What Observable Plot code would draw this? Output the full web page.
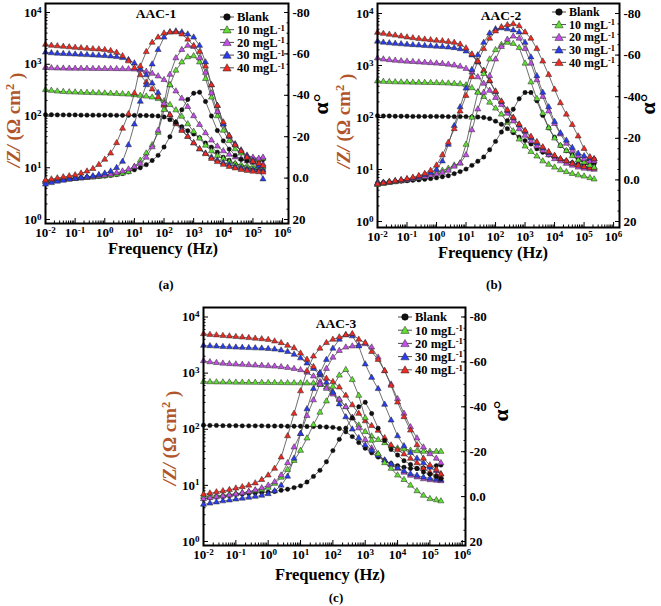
<!DOCTYPE html>
<html>
<head>
<meta charset="utf-8">
<script src="https://cdn.jsdelivr.net/npm/d3@7"></script>
<script src="https://cdn.jsdelivr.net/npm/@observablehq/plot@0.6"></script>
<style>
html,body{margin:0;padding:0;background:#fff}
#root{position:relative;width:661px;height:606px;overflow:hidden;background:#fff}
#root>svg{position:absolute;max-width:none}
</style>
</head>
<body>
<div id="root"></div>
<script>
// ---------- shared categories / ticks ----------
const freq = [0.01,0.0158,0.0251,0.0398,0.0631,0.1,0.158,0.251,0.398,0.631,1,1.58,2.51,3.98,6.31,10,15.8,25.1,39.8,63.1,100,158,251,398,631,1000,1580,2510,3980,6310,10000,15800,25100,39800,63100,100000,158000,219000];
const seriesNames = ["Blank","10 mgL^-1","20 mgL^-1","30 mgL^-1","40 mgL^-1"];
const seriesColors = ["#111111","#5fe030","#c44ee8","#2a3cf0","#ee2a22"];
const xMajor = [0.01,0.1,1,10,100,1000,10000,100000,1000000];
const xMajorLabels = ["10^-2","10^-1","10^0","10^1","10^2","10^3","10^4","10^5","10^6"];
const zMajor = [1,10,100,1000,10000];
const zMajorLabels = ["10^0","10^1","10^2","10^3","10^4"];
const pMajor = [-80,-60,-40,-20,0,20];
const pMajorLabels = ["-80","-60","-40","-20","0.0","20"];

// ---------- panel (a) AAC-1 ----------
const modA0  = [106,106,105,105,105,105,104,104,104,104,104,104,103,103,103,103,102,102,101,100,96,85,72,62,52,45,38,30,25,20,16,14,12,11,10,9.5,9.1,9];
const modA10 = [320,310,300,295,290,288,285,283,280,278,276,273,270,266,262,255,248,240,230,215,195,165,130,98,70,50,37,27,21,17,15,13,12,11.3,10.8,10.5,10.3,10.2];
const modA20 = [860,845,838,833,830,828,826,824,822,820,818,816,814,812,810,800,776,724,661,589,501,398,302,219,151,100,68,47,34,26,21,18,16,15,13.5,12.6,12,11.7];
const modA30 = [1700,1650,1620,1600,1580,1560,1540,1520,1500,1480,1460,1430,1390,1330,1220,1050,820,620,430,280,165,105,75,55,40,30,23,19,16,14,12.5,11.5,10.5,10,9.5,9.2,9,8.9];
const modA40 = [2400,2300,2250,2200,2150,2100,2060,2020,1980,1950,1900,1820,1680,1450,1150,850,620,450,330,230,160,105,70,52,40,30,23,18.5,15,13,11.5,10.5,9.8,9.2,8.8,8.5,8.3,8.2];
const phA0  = [1.5,1.2,0.9,0.6,0.3,0,-0.2,-0.4,-0.6,-0.8,-1,-1.3,-1.7,-2.2,-3,-4,-5,-6.5,-8.5,-11,-15,-20,-27,-33,-38,-41,-41.5,-37,-30,-23,-18,-14,-11,-9,-8.5,-8,-8.5,-9];
const phA10 = [1.5,1.2,1,0.7,0.4,0.2,0,-0.2,-0.4,-0.7,-1,-1.4,-1.8,-2.3,-3,-5.5,-8.5,-12,-16,-22,-33,-45,-52,-56,-58.5,-59,-56,-48,-39,-30,-23,-18,-14,-12,-10.5,-9.5,-9,-9.5];
const phA20 = [2,1.6,1.2,0.9,0.6,0.3,0,-0.3,-0.6,-1,-1.4,-1.9,-2.5,-3.3,-4.3,-5.5,-7,-10,-15,-23,-36,-50,-58,-62,-64,-63.5,-58,-51,-41,-32,-26,-20,-16,-13,-11,-10,-9.5,-10];
const phA30 = [3,2.3,1.6,1.1,0.6,0.2,-0.2,-0.6,-1,-1.6,-2.3,-3.3,-5,-8,-16,-26,-37,-45,-55,-62,-68,-70.5,-71,-70.5,-69.5,-68,-64,-56,-45,-35,-26,-20.5,-16.5,-13.5,-10.5,-8.5,-6,0.5];
const phA40 = [1,0.5,0,-0.5,-1,-1.5,-2.3,-3.3,-4.5,-6.5,-9,-12,-17,-24,-31,-41,-54,-61,-65.5,-68,-70,-70.5,-70.5,-69.5,-67,-64,-61,-54,-45,-35,-27,-20.5,-16,-13,-10,-8,-7,-6];

// ---------- panel (b) AAC-2 ----------
const modB0  = [108,107,107,106,106,106,105,105,105,105,105,105,104,104,104,104,103,102,100,95,85,74,61,51,42,36,31,25,21.5,19,17,15.5,14.5,13.5,12.8,12.5,12.5,13];
const modB10 = [500,490,485,480,478,475,472,470,468,466,463,460,455,448,440,420,370,310,250,195,150,115,80,55,38,28,22,18,14.5,12.5,11,9.8,9,8.3,7.8,7.4,6.9,6.5];
const modB20 = [1380,1320,1280,1250,1220,1200,1180,1160,1140,1120,1100,1080,1050,1010,960,870,740,600,450,330,240,175,120,85,60,45,35,28,23,19,16,14.5,13,12,11,10.5,10.2,10];
const modB30 = [2900,2780,2700,2640,2590,2540,2490,2450,2410,2370,2330,2290,2240,2180,2080,1880,1580,1150,780,500,310,200,135,98,72,54,41,32,26,21,18,16,14.5,13.3,12.3,11.6,11.2,11];
const modB40 = [4300,4100,3950,3800,3650,3500,3380,3280,3180,3100,3020,2950,2870,2760,2550,2150,1650,1200,800,510,320,205,140,100,74,56,43,34,27,22,18.5,16,14.5,13,12,11.3,10.8,10.5];
const phB0  = [1.5,1.2,1,0.8,0.6,0.4,0.2,0,-0.3,-0.6,-1,-1.5,-2,-3,-4,-5.2,-7,-9,-11,-14.5,-18.5,-23,-28.5,-34,-39,-42,-42,-38,-31,-25,-20.5,-16.5,-14,-12,-10,-9,-9.5,-10];
const phB10 = [2.3,1.8,1.4,1,0.6,0.2,-0.3,-0.8,-1.5,-2.5,-3.5,-4.5,-5.5,-7,-8,-17,-30,-42,-51,-58,-62.5,-65,-66,-65.5,-63.5,-56,-47,-39,-32,-25,-20,-16.5,-14,-11.5,-9.5,-8.5,-7,-6];
const phB20 = [2,1.6,1.2,0.8,0.4,0,-0.5,-1,-1.6,-2.2,-2.8,-3.5,-4.5,-6.5,-8,-12,-24,-34,-42,-50,-58,-64,-67.5,-69,-68,-63,-56,-48,-40,-33,-27,-22,-17.5,-14,-11.5,-10,-9,-9];
const phB30 = [1.5,1.2,0.9,0.5,0.1,-0.3,-0.8,-1.5,-2.5,-3.5,-5,-9,-17,-26,-35,-44,-53,-60,-66,-70.5,-72.5,-73,-72.5,-72,-71,-66,-59,-50,-42,-35,-28,-22.5,-19,-15.5,-12.7,-11.5,-10.5,-10];
const phB40 = [2,1.5,1,0.5,0,-0.5,-1.2,-2,-3,-4.5,-7,-12,-18,-24.5,-33,-40.5,-49.5,-57,-63,-68,-71.5,-73.5,-74.5,-75,-74,-71,-68,-63,-57,-50.5,-43.5,-37,-31.5,-26.5,-21,-15,-11,-10];

// ---------- panel (c) AAC-3 ----------
const modC0  = [118,117,117,116,116,116,115,115,115,115,114,114,114,113,113,113,112,112,111,110,108,103,90,74,58,46,38,32,27.5,24.5,22.5,21,20,20,20.5,21.5,22.5,23];
const modC10 = [700,695,690,688,686,684,682,680,678,676,674,672,670,668,666,664,662,660,620,560,460,340,250,160,118,90,75,65,57,50,46,44,42,41,40,40,40,40];
const modC20 = [1650,1580,1530,1490,1460,1440,1420,1400,1380,1360,1340,1320,1290,1250,1200,1140,1030,880,700,530,420,340,250,160,105,65,46,36,28,23,20,17,15,14,13,12.5,12.2,12];
const modC30 = [3100,3050,3000,2960,2920,2880,2850,2820,2790,2760,2720,2660,2560,2400,2150,1850,1500,1200,920,680,450,280,165,100,70,52,42,34,28,24,20.5,18,16,15,14,13.3,12.8,12.5];
const modC40 = [5000,4850,4750,4650,4550,4450,4350,4250,4150,4050,3950,3700,3450,3100,2800,2250,1750,1300,1000,800,700,560,400,270,190,140,115,95,70,52,43,36,30,25,20,17,15,14];
const phC0  = [1,0.5,0.2,0,-0.5,-1,-1.2,-1.4,-1.6,-1.8,-2,-2.3,-2.8,-3.3,-4,-4.8,-6.5,-9,-11.7,-15.5,-20.5,-25.5,-30.5,-35,-40,-42,-37,-30.5,-25,-21,-18.5,-16,-14.3,-12.5,-11,-10,-9,-8];
const phC10 = [0,-0.2,-0.4,-0.6,-0.9,-1.3,-1.7,-2.1,-2.6,-3.1,-4,-5.8,-8.5,-12,-16,-20.5,-26,-32,-37.5,-42.5,-49,-54,-56.5,-52,-45,-35,-25,-19,-15,-12.5,-9.5,-7.5,-5,-2.5,-0.5,1,1.5,2];
const phC20 = [1,0.6,0.2,-0.2,-0.6,-1.1,-1.6,-2.2,-2.9,-3.8,-5,-6.5,-9.5,-15,-22,-28,-36,-43,-50,-57,-62,-65,-66.5,-67,-67.5,-68,-66.5,-62,-56,-50,-43.5,-37,-31,-26,-22,-19,-17,-15];
const phC30 = [3.5,3,2.5,2,1.6,1.2,0.8,0.4,0,-0.5,-1.2,-2.5,-5,-9,-17,-28,-39,-48,-55,-61,-66,-70,-72,-71.5,-67,-59,-53,-48,-41,-34,-27,-22.5,-19.5,-17,-15,-13,-11.5,-10];
const phC40 = [-1,-1.5,-2,-2.5,-3,-3.7,-4.3,-5,-6,-7.5,-9.5,-12.5,-17.5,-27,-37,-47,-56,-62.5,-66,-68.5,-70,-71,-72,-72.5,-70,-68.5,-64.5,-61,-56,-49.5,-42,-35.5,-29.5,-23,-17,-14,-12,-10];

// ---------- helpers ----------
const FONT = '"Liberation Serif","Times New Roman",serif';
const xLabelMap = new Map(xMajor.map((d, i) => [d, xMajorLabels[i]]));
const zLabelMap = new Map(zMajor.map((d, i) => [d, zMajorLabels[i]]));
const pLabelMap = new Map(pMajor.map((d, i) => [d, pMajorLabels[i]]));
const xMinor = [];
for (let e = -2; e <= 5; e++) for (let m = 2; m <= 9; m++) xMinor.push(m * Math.pow(10, e));
const zMinor = [];
for (let e = 0; e <= 3; e++) for (let m = 2; m <= 9; m++) zMinor.push(m * Math.pow(10, e));
const pMinor = d3.range(-80, 21, 5);

function rowsOf(arrs) {
  const out = [];
  arrs.forEach((arr, s) => arr.forEach((v, i) => out.push({f: freq[i], v, s})));
  return out;
}

function supify(svg) {
  d3.select(svg).selectAll("text").each(function () {
    const t = this.textContent;
    const m = /^(.*)\^(.+)$/.exec(t);
    if (!m) return;
    const el = d3.select(this);
    el.text(null);
    el.append("tspan").text(m[1]);
    el.append("tspan").attr("dy", "-0.45em").attr("font-size", "0.7em").text(m[2]);
  });
}

function seriesMarks(rows) {
  return [
    Plot.line(rows, {x: "f", y: "v", z: "s", stroke: "#4a4a4a", strokeWidth: 0.8}),
    Plot.dot(rows, {filter: d => d.s === 0, x: "f", y: "v", r: 2.2, fill: seriesColors[0], stroke: "#000", strokeWidth: 0.4}),
    Plot.dot(rows, {filter: d => d.s > 0, x: "f", y: "v", symbol: "triangle", r: 2.25,
      fill: d => seriesColors[d.s], stroke: "#262626", strokeWidth: 0.5})
  ];
}

const panels = [
  {left: 0, top: 0, width: 330, height: 300, mt: 3, mb: 77, ml: 45, mr: 42,
   xMax: Math.pow(10, 6.2), zDom: [Math.pow(10, -0.077), Math.pow(10, 4.174)], pDom: [21.93, -84.35],
   mod: [modA0, modA10, modA20, modA30, modA40], ph: [phA0, phA10, phA20, phA30, phA40]},
  {left: 330, top: 0, width: 331, height: 300, mt: 3, mb: 73, ml: 47, mr: 42,
   xMax: Math.pow(10, 6.2), zDom: [Math.pow(10, -0.115), Math.pow(10, 4.192)], pDom: [22.88, -84.8],
   mod: [modB0, modB10, modB20, modB30, modB40], ph: [phB0, phB10, phB20, phB30, phB40]},
  {left: 0, top: 300, width: 661, height: 306, mt: 7, mb: 61, ml: 203, mr: 196,
   xMax: Math.pow(10, 6.1), zDom: [Math.pow(10, -0.071), Math.pow(10, 4.169)], pDom: [21.78, -84.23],
   mod: [modC0, modC10, modC20, modC30, modC40], ph: [phC0, phC10, phC20, phC30, phC40]}
];

const root = document.getElementById("root");
function place(node, left, top) {
  node.style.position = "absolute";
  node.style.left = left + "px";
  node.style.top = top + "px";
  root.appendChild(node);
}

for (const P of panels) {
  const common = {
    width: P.width, height: P.height,
    marginTop: P.mt, marginBottom: P.mb, marginLeft: P.ml, marginRight: P.mr,
    style: {background: "transparent", fontFamily: FONT, fontWeight: "bold", fontSize: "13px", color: "#000", overflow: "visible"}
  };
  const zPlot = Plot.plot({
    ...common,
    x: {type: "log", domain: [0.01, P.xMax], axis: null},
    y: {type: "log", domain: P.zDom, axis: null},
    marks: [
      Plot.axisX({ticks: xMajor, tickFormat: d => xLabelMap.get(d), tickSize: -5, tickPadding: 9, label: null}),
      Plot.axisX({ticks: xMinor, tickFormat: () => "", tickSize: -2.5, label: null}),
      Plot.axisY({ticks: zMajor, tickFormat: d => zLabelMap.get(d), tickSize: -5, tickPadding: 9, label: null}),
      Plot.axisY({ticks: zMinor, tickFormat: () => "", tickSize: -2.5, label: null}),
      ...seriesMarks(rowsOf(P.mod)),
      Plot.frame({stroke: "#000", strokeWidth: 2})
    ]
  });
  const pPlot = Plot.plot({
    ...common,
    x: {type: "log", domain: [0.01, P.xMax], axis: null},
    y: {type: "linear", domain: P.pDom, axis: null},
    marks: [
      Plot.axisY({anchor: "right", ticks: pMajor, tickFormat: d => pLabelMap.get(d), tickSize: -5, tickPadding: 9, label: null}),
      Plot.axisY({anchor: "right", ticks: pMinor, tickFormat: () => "", tickSize: -2.5, label: null}),
      ...seriesMarks(rowsOf(P.ph))
    ]
  });
  supify(zPlot);
  place(zPlot, P.left, P.top);
  place(pPlot, P.left, P.top);
}

// ---------- overlay: titles, axis titles, legends ----------
const ov = d3.create("svg").attr("width", 661).attr("height", 606)
  .style("font-family", FONT).style("font-weight", "bold").style("pointer-events", "none");
place(ov.node(), 0, 0);

const titles = [
  {t: "AAC-1", x: 156, y: 18}, {t: "AAC-2", x: 501, y: 20}, {t: "AAC-3", x: 336, y: 328}
];
titles.forEach(d => ov.append("text").attr("x", d.x).attr("y", d.y).attr("text-anchor", "middle")
  .attr("font-size", 13.5).text(d.t));

const subLabels = [{t: "(a)", x: 166, y: 289}, {t: "(b)", x: 494, y: 289}, {t: "(c)", x: 336, y: 602}];
subLabels.forEach(d => ov.append("text").attr("x", d.x).attr("y", d.y).attr("text-anchor", "middle")
  .attr("font-size", 13).text(d.t));

const freqTitles = [{x: 163, y: 254}, {x: 493, y: 258}, {x: 330, y: 580}];
freqTitles.forEach(d => ov.append("text").attr("x", d.x).attr("y", d.y).attr("text-anchor", "middle")
  .attr("font-size", 16.5).text("Frequency (Hz)"));

const zTitles = [{x: 13, y: 120}, {x: 343, y: 121}, {x: 169, y: 438}];
zTitles.forEach(d => {
  const t = ov.append("text").attr("transform", `translate(${d.x},${d.y}) rotate(-90)`)
    .attr("text-anchor", "middle").attr("dy", "0.35em").attr("font-size", 19).attr("fill", "#b0562a");
  t.append("tspan").attr("font-style", "italic").text("/Z/");
  t.append("tspan").text(" (\u03A9 cm");
  t.append("tspan").attr("dy", "-0.45em").attr("font-size", "0.65em").text("2");
  t.append("tspan").attr("dy", "0.45em").text(" )");
});

const alphaTitles = [{x: 320, y: 104}, {x: 647, y: 104}, {x: 500, y: 411}];
alphaTitles.forEach(d => ov.append("text").attr("transform", `translate(${d.x},${d.y}) rotate(-90)`)
  .attr("text-anchor", "middle").attr("dy", "0.35em").attr("font-size", 22).text("\u03B1\u00B0"));

const legends = [
  {mx: 227, tx: 237, y0: 17, step: 12.7, half: 7, fs: 12.5},
  {mx: 559, tx: 569, y0: 12, step: 12.6, half: 7, fs: 12},
  {mx: 405, tx: 415, y0: 317, step: 13.2, half: 7, fs: 12.5}
];
legends.forEach(L => {
  seriesNames.forEach((name, s) => {
    const y = L.y0 + s * L.step;
    ov.append("line").attr("x1", L.mx - L.half).attr("x2", L.mx + L.half).attr("y1", y).attr("y2", y)
      .attr("stroke", "#4a4a4a").attr("stroke-width", 1);
    ov.append("path").attr("transform", `translate(${L.mx},${y + (s ? 0.8 : 0)})`)
      .attr("d", d3.symbol(s === 0 ? d3.symbolCircle : d3.symbolTriangle, s === 0 ? 34 : 30)())
      .attr("fill", seriesColors[s]).attr("stroke", s ? "#262626" : "#000").attr("stroke-width", 0.5);
    const t = ov.append("text").attr("x", L.tx).attr("y", y).attr("dy", "0.35em").attr("font-size", L.fs);
    const m = /^(.*)\^(.+)$/.exec(name);
    if (m) {
      t.append("tspan").text(m[1]);
      t.append("tspan").attr("dy", "-0.4em").attr("font-size", "0.7em").text(m[2]);
    } else t.text(name);
  });
});
</script>
</body>
</html>
